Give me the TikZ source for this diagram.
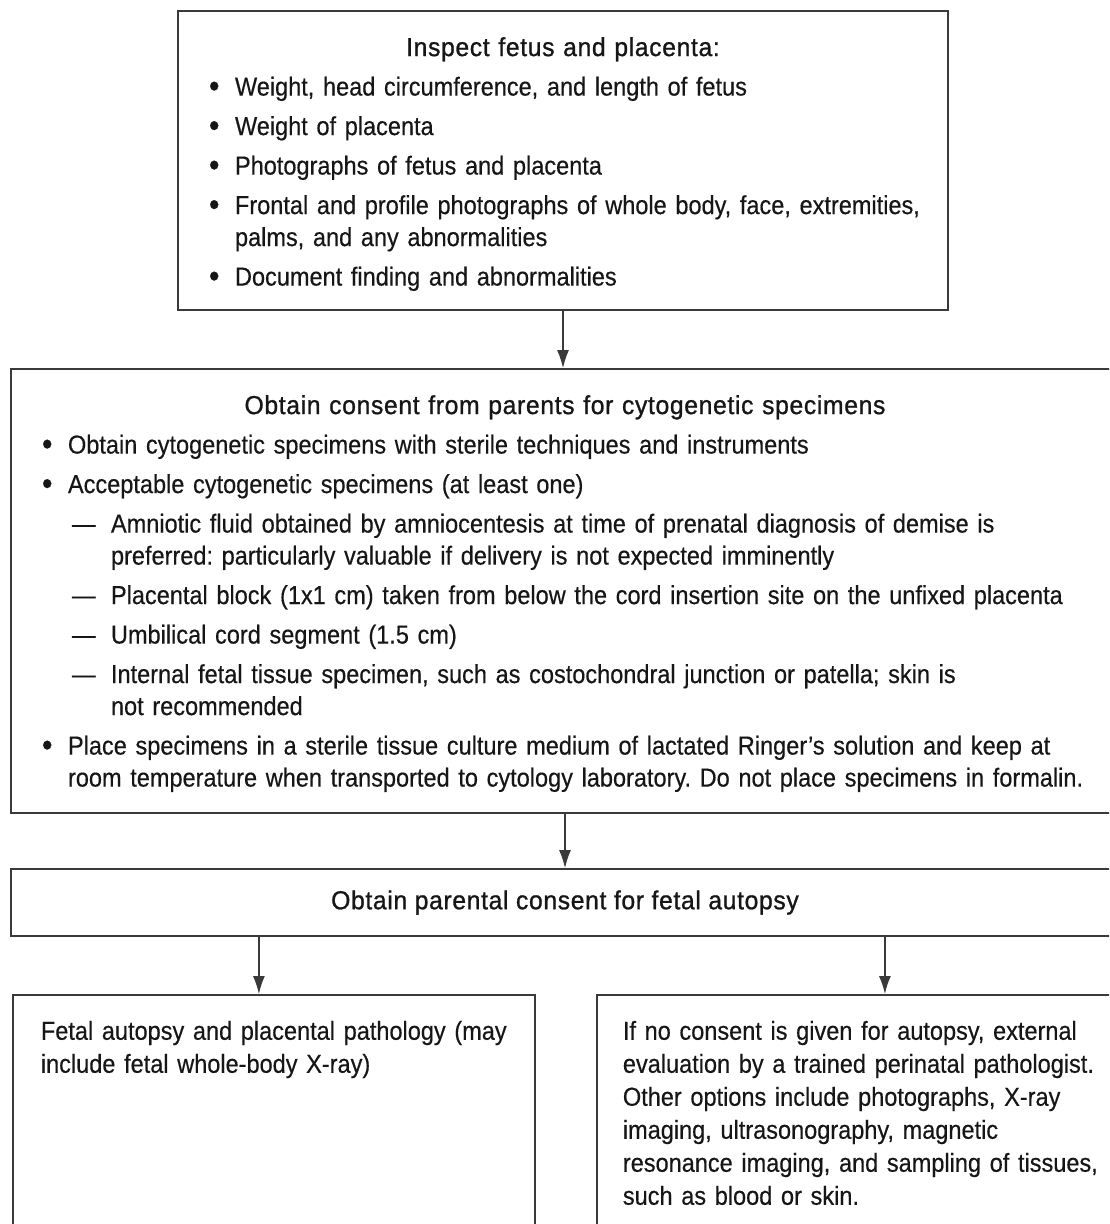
\documentclass[tikz,border=0pt]{standalone}
\usepackage{fontspec}
\setmainfont{Liberation Sans}[FakeStretch=0.905,FakeBold=0.4]
\newfontfamily\titlefont{Liberation Sans}[FakeStretch=0.95,LetterSpace=2.5,FakeBold=1.0]
\usetikzlibrary{arrows.meta,positioning}
\definecolor{inkc}{HTML}{161616}
\definecolor{linec}{HTML}{3A3A3A}
\frenchspacing

\newcommand{\bigbul}{\raisebox{-1.5pt}{\fontsize{33}{0}\selectfont\textbullet}}
\newcommand{\bulitem}[1]{\mbox{\makebox[26pt][l]{\bigbul}#1}}
\newcommand{\contline}[1]{\mbox{\hspace*{26pt}#1}}
\newcommand{\dashitem}[1]{\mbox{\hspace*{30pt}\makebox[39pt][l]{---}#1}}
\newcommand{\dashcont}[1]{\mbox{\hspace*{69pt}#1}}
\newcommand{\boxtitle}[2]{\rule{0pt}{#1}\makebox[\hsize][c]{\titlefont #2}}
\newcommand{\oneline}[1]{\mbox{#1}}

\begin{document}
\begin{tikzpicture}[x=1pt, y=-1pt,
  box/.style={draw=linec, line width=1.8pt, inner sep=0pt, text=inkc,
    font={\fontsize{26}{32}\selectfont}},
  arr/.style={draw=linec, line width=1.4pt, -{Latex[length=18pt,width=12pt]}},
]
  \useasboundingbox (0,0) rectangle (1109,1224);
  \clip (0,0) rectangle (1109,1224);
  % Inspect box: x 178..948, y 11..310 => centre (563,160.5)
  \node[box, minimum width=770pt, minimum height=299pt, text width=708pt, align=left]
    (inspect) at (563,160.5) {%
    \boxtitle{26pt}{Inspect fetus and placenta:}\\[7.5pt]
    \bulitem{Weight, head circumference, and length of fetus}\\[7.5pt]
    \bulitem{Weight of placenta}\\[7.5pt]
    \bulitem{Photographs of fetus and placenta}\\[7.5pt]
    \bulitem{Frontal and profile photographs of whole body, face, extremities,}\\
    \contline{palms, and any abnormalities}\\[7.5pt]
    \bulitem{Document finding and abnormalities}};
  % Specimen box: x 11..1119 (runs off the right edge), y 369..813 => centre (565,591)
  \node[box, minimum width=1108pt, minimum height=444pt, text width=1046pt, align=left]
    (cyto) at (565,591) {%
    \boxtitle{24pt}{Obtain consent from parents for cytogenetic specimens}\\[7.5pt]
    \bulitem{Obtain cytogenetic specimens with sterile techniques and instruments}\\[7.5pt]
    \bulitem{Acceptable cytogenetic specimens (at least one)}\\[7.5pt]
    \dashitem{Amniotic fluid obtained by amniocentesis at time of prenatal diagnosis of demise is}\\
    \dashcont{preferred: particularly valuable if delivery is not expected imminently}\\[7.5pt]
    \dashitem{Placental block (1x1 cm) taken from below the cord insertion site on the unfixed placenta}\\[7.5pt]
    \dashitem{Umbilical cord segment (1.5 cm)}\\[7.5pt]
    \dashitem{Internal fetal tissue specimen, such as costochondral junction or patella; skin is}\\
    \dashcont{not recommended}\\[7.5pt]
    \bulitem{Place specimens in a sterile tissue culture medium of lactated Ringer's solution and keep at}\\
    \contline{room temperature when transported to cytology laboratory. Do not place specimens in formalin.}};
  % Consent box: y 869..936 => centre 902.5
  \node[box, minimum width=1108pt, minimum height=67pt]
    (consent) at (565,902.5) {\titlefont Obtain parental consent for fetal autopsy};
  % Bottom boxes start at y 994 and run off the bottom edge
  \node[box, anchor=north west, minimum width=522pt, inner xsep=28pt, inner ysep=26pt,
    text width=466pt, align=left, text depth=300pt, font={\fontsize{26}{33}\selectfont}]
    (full) at (12,994) {%
    \oneline{Fetal autopsy and placental pathology (may}\\
    \oneline{include fetal whole-body X-ray)}};
  \node[box, anchor=north west, minimum width=529pt, inner xsep=26pt, inner ysep=26pt,
    text width=477pt, align=left, text depth=300pt, font={\fontsize{26}{33}\selectfont}]
    (external) at (596,994) {%
    \oneline{If no consent is given for autopsy, external}\\
    \oneline{evaluation by a trained perinatal pathologist.}\\
    \oneline{Other options include photographs, X-ray}\\
    \oneline{imaging, ultrasonography, magnetic}\\
    \oneline{resonance imaging, and sampling of tissues,}\\
    \oneline{such as blood or skin.}};
  % Connectors
  \draw[arr] (inspect.south) -- (inspect.south |- cyto.north);
  \draw[arr] (cyto.south) -- (cyto.south |- consent.north);
  % left arrow at x 258, right arrow at x 884
  \draw[arr] ([xshift=-15pt]full.north |- consent.south) -- ([xshift=-15pt]full.north);
  \draw[arr] ([xshift=23.5pt]external.north |- consent.south) -- ([xshift=23.5pt]external.north);
\end{tikzpicture}
\end{document}
